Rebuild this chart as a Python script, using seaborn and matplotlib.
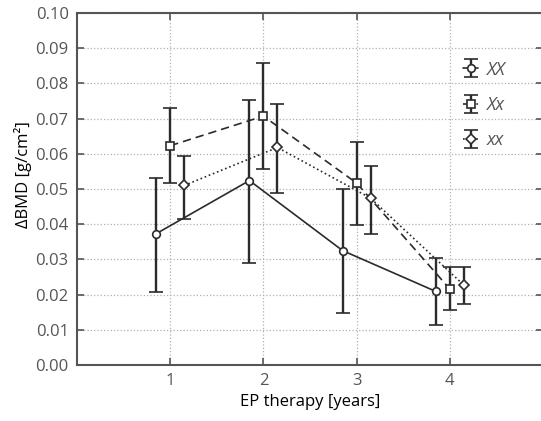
import matplotlib

matplotlib.use("Agg")
import matplotlib.pyplot as plt
import numpy as np
import seaborn as sns

# therapy years and genotype groups
years = [1, 2, 3, 4]
groups = ["XX", "Xx", "xx"]

# mean change in BMD per group, with lower / upper ends of the error bars
xx_upper_mean = [0.0373, 0.0524, 0.0325, 0.0209]
xx_upper_low = [0.0207, 0.0291, 0.0148, 0.0114]
xx_upper_high = [0.0530, 0.0752, 0.0500, 0.0303]

xmix_mean = [0.0623, 0.0707, 0.0517, 0.0216]
xmix_low = [0.0518, 0.0556, 0.0398, 0.0155]
xmix_high = [0.0730, 0.0857, 0.0633, 0.0277]

xx_lower_mean = [0.0510, 0.0618, 0.0474, 0.0227]
xx_lower_low = [0.0414, 0.0490, 0.0372, 0.0173]
xx_lower_high = [0.0593, 0.0742, 0.0566, 0.0277]

series = [
    (xx_upper_mean, xx_upper_low, xx_upper_high),
    (xmix_mean, xmix_low, xmix_high),
    (xx_lower_mean, xx_lower_low, xx_lower_high),
]
offsets = [-0.15, 0.0, 0.15]
markers = ["o", "s", "D"]
marker_sizes = [5.5, 5.5, 5]
linestyles = ["-", (0, (5, 3)), ":"]

sns.set_style("ticks")
plt.rcParams["font.family"] = ["Open Sans", "DejaVu Sans"]

fig = plt.figure(figsize=(5.41, 4.21), dpi=100)
ax = fig.add_axes([77 / 541, 56 / 421, 466 / 541, 352 / 421])

dark = "#2b2b2b"
for name, (mean, low, high), off, mk, ms, ls in zip(
    groups, series, offsets, markers, marker_sizes, linestyles
):
    x = np.array(years) + off
    mean = np.array(mean)
    yerr = [mean - np.array(low), np.array(high) - mean]
    ax.errorbar(
        x,
        mean,
        yerr=yerr,
        color=dark,
        linestyle=ls,
        linewidth=1.2,
        marker=mk,
        markersize=ms,
        markerfacecolor="white",
        markeredgecolor=dark,
        markeredgewidth=1.2,
        ecolor=dark,
        elinewidth=1.7,
        capsize=4.8,
        capthick=2.0,
        label=name,
    )

ax.set_xlim(0, 5)
ax.set_ylim(0, 0.10)
ax.set_xticks(years)
ax.set_yticks(np.arange(0, 0.101, 0.01))
ax.yaxis.set_major_formatter(matplotlib.ticker.FormatStrFormatter("%.2f"))
ax.grid(True, color="#b0b0b0", linestyle=":", linewidth=0.9)
ax.tick_params(
    direction="in", top=True, right=True, length=5, width=1.2,
    color="#555555", labelcolor="#555555", labelsize=12, pad=6,
)
for spine in ax.spines.values():
    spine.set_color("#555555")
    spine.set_linewidth(1.5)

ax.set_xlabel("EP therapy [years]", fontsize=12, color="black", labelpad=3)
ax.set_ylabel("ΔBMD [g/cm²]", fontsize=12, color="black", labelpad=4)
ax.yaxis.set_label_coords(-0.097, 0.54)

leg = ax.legend(
    loc="upper left",
    bbox_to_anchor=(0.81, 0.89),
    frameon=False,
    handlelength=0.8,
    handletextpad=0.5,
    labelspacing=0.95,
    borderpad=0,
    fontsize=13,
)
for text in leg.get_texts():
    text.set_color("#555555")
    text.set_fontstyle("italic")

fig.savefig("out.png", dpi=100)
